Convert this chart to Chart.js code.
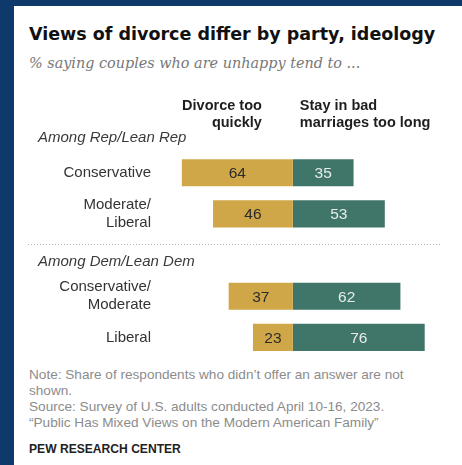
<!DOCTYPE html>
<html>
<head>
<meta charset="utf-8">
<script src="https://cdn.jsdelivr.net/npm/chart.js@4"></script>
<style>
  html, body { margin: 0; padding: 0; }
  body { width: 462px; height: 465px; background: #0d3a6b; position: relative; overflow: hidden; }
  .card { position: absolute; left: 14px; top: 6px; right: 0; bottom: 0; background: #fff; }
  .txt { position: absolute; white-space: nowrap; }
  #title { left: 29px; top: 24px; font: bold 17.5px/20px "DejaVu Sans", sans-serif; color: #111; }
  #subtitle { left: 29px; top: 54px; font: italic 14.4px/18px "DejaVu Serif", serif; color: #777; }
  #note { left: 29px; top: 367px; font: 13.6px/16px "Liberation Sans", Arial, sans-serif; color: #8c8c8c; }
  #credit { left: 29px; top: 441px; font: bold 12.1px/16px "Liberation Sans", Arial, sans-serif; color: #222; }
  #chartBox { position: absolute; left: 14px; top: 88px; width: 448px; height: 289px; }
</style>
</head>
<body>
<div class="card"></div>
<div class="txt" id="title">Views of divorce differ by party, ideology</div>
<div class="txt" id="subtitle">% saying couples who are unhappy tend to ...</div>
<div class="txt" id="note">Note: Share of respondents who didn’t offer an answer are not<br>shown.<br>Source: Survey of U.S. adults conducted April 10-16, 2023.<br>“Public Has Mixed Views on the Modern American Family”</div>
<div class="txt" id="credit">PEW RESEARCH CENTER</div>
<div id="chartBox"><canvas id="graficoDivorcio"></canvas></div>

<script>
// grupos e categorias (linhas do gráfico)
const grupos = ['Among Rep/Lean Rep', 'Among Dem/Lean Dem']
const categorias = [
    [['Conservative'], ['Moderate/', 'Liberal']],
    [['Conservative/', 'Moderate'], ['Liberal']]
]
// % que diz que casais infelizes...
const divorciamRapido = [64, 46, 37, 23]
const ficamMuitoTempo = [35, 53, 62, 76]
const colunas = [['Divorce too', 'quickly'], ['Stay in bad', 'marriages too long']]

const corDivorcio = '#d0a748'
const corFicam = '#3f7669'

// monta as linhas: uma linha vazia para o título de cada grupo
let labels = []
let dadosDivorcio = []
let dadosFicam = []
let linhasGrupo = []
let k = 0
for (let g = 0; g < grupos.length; g++) {
    linhasGrupo.push(labels.length)
    labels.push('')
    dadosDivorcio.push(null)
    dadosFicam.push(null)
    for (let c = 0; c < categorias[g].length; c++) {
        labels.push(categorias[g][c])
        dadosDivorcio.push(-divorciamRapido[k])
        dadosFicam.push(ficamMuitoTempo[k])
        k++
    }
}

const textosExtras = {
    id: 'textosExtras',
    afterDatasetsDraw(chart) {
        const ctx = chart.ctx
        const x = chart.scales.x
        const y = chart.scales.y
        const zero = x.getPixelForValue(0)
        const topo = chart.chartArea.top
        ctx.save()

        // valores dentro das barras
        ctx.font = '15.5px "Liberation Sans", Arial, sans-serif'
        ctx.textAlign = 'center'
        ctx.textBaseline = 'middle'
        chart.data.datasets.forEach((ds, i) => {
            chart.getDatasetMeta(i).data.forEach((el, j) => {
                if (ds.data[j] == null) return
                ctx.fillStyle = i == 0 ? '#2b2b2b' : '#e6ece9'
                ctx.fillText(Math.abs(ds.data[j]), (el.x + el.base) / 2, el.y + 1)
            })
        })

        // cabeçalhos das colunas
        ctx.font = 'bold 14.5px "Liberation Sans", Arial, sans-serif'
        ctx.fillStyle = '#1e1e1e'
        ctx.textBaseline = 'alphabetic'
        ctx.textAlign = 'right'
        colunas[0].forEach((t, i) => ctx.fillText(t, zero - 31, topo - 1 + 17 * i))
        ctx.textAlign = 'left'
        colunas[1].forEach((t, i) => ctx.fillText(t, zero + 7, topo - 1 + 17 * i))

        // títulos dos grupos e linha pontilhada
        ctx.font = 'italic 15px "Liberation Sans", Arial, sans-serif'
        ctx.fillStyle = '#3a3a3a'
        linhasGrupo.forEach((linha, i) => {
            const py = y.getPixelForValue(linha)
            ctx.fillText(grupos[i], 24, py + 10.5)
            if (i > 0) {
                ctx.strokeStyle = '#b5b5b5'
                ctx.lineWidth = 1
                ctx.setLineDash([1, 2])
                ctx.beginPath()
                ctx.moveTo(14, Math.round(py - 11) + 0.5)
                ctx.lineTo(426, Math.round(py - 11) + 0.5)
                ctx.stroke()
                ctx.setLineDash([])
            }
        })
        ctx.restore()
    }
}

const grafico = new Chart(document.getElementById('graficoDivorcio'), {
    type: 'bar',
    data: {
        labels: labels,
        datasets: [
            { label: 'Divorce too quickly', data: dadosDivorcio, backgroundColor: corDivorcio },
            { label: 'Stay in bad marriages too long', data: dadosFicam, backgroundColor: corFicam }
        ]
    },
    options: {
        indexAxis: 'y',
        responsive: true,
        maintainAspectRatio: false,
        animation: false,
        events: [],
        barPercentage: 0.66,
        categoryPercentage: 1,
        layout: {
            padding: { left: 0, right: 13, top: 23, bottom: 3 }
        },
        plugins: {
            legend: { display: false },
            tooltip: { enabled: false },
            title: { display: false }
        },
        scales: {
            x: {
                display: false,
                stacked: true,
                min: -76,
                max: 90
            },
            y: {
                stacked: true,
                grid: { display: false, drawTicks: false },
                border: { display: false },
                afterFit: function (scale) {
                    scale.width = 147
                },
                ticks: {
                    padding: 10,
                    color: '#333',
                    font: { family: '"Liberation Sans", Arial, sans-serif', size: 15, lineHeight: 1.2 }
                }
            }
        }
    },
    plugins: [textosExtras]
})
</script>
</body>
</html>
